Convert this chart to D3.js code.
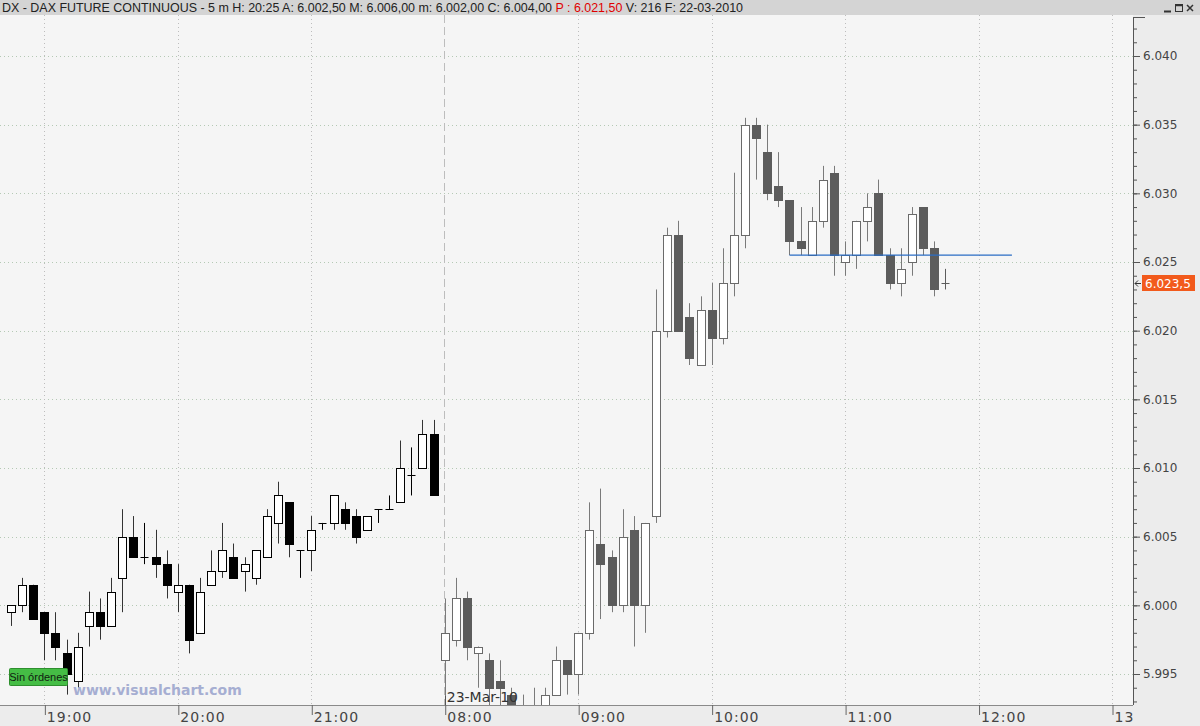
<!DOCTYPE html>
<html>
<head>
<meta charset="utf-8">
<script src="https://cdn.jsdelivr.net/npm/d3@7"></script>
<style>
html,body{margin:0;padding:0;background:#ededed;}
svg{display:block;}
</style>
</head>
<body>
<svg id="chart" width="1200" height="726"></svg>
<script>
// ---------- DATA ----------
const eveningTimes = ["18:45","18:50","18:55","19:00","19:05","19:10","19:15","19:20","19:25","19:30","19:35","19:40","19:45","19:50","19:55",
  "20:00","20:05","20:10","20:15","20:20","20:25","20:30","20:35","20:40","20:45","20:50","20:55",
  "21:00","21:05","21:10","21:15","21:20","21:25","21:30","21:35","21:40","21:45","21:50","21:55"];
const morningTimes = ["08:00","08:05","08:10","08:15","08:20","08:25","08:30","08:35","08:40","08:45","08:50","08:55",
  "09:00","09:05","09:10","09:15","09:20","09:25","09:30","09:35","09:40","09:45","09:50","09:55",
  "10:00","10:05","10:10","10:15","10:20","10:25","10:30","10:35","10:40","10:45","10:50","10:55",
  "11:00","11:05","11:10","11:15","11:20","11:25","11:30","11:35","11:40","11:45"];

const openValues = [5999.5,6000,6001.5,5999.5,5998,5996.5,5994.5,5998.5,5999.5,5998.5,6002,6005,6003.5,6003.5,6003,
  6001,6001.5,5998,6001.5,6002.5,6003.5,6002.5,6002,6003.5,6006,6007.5,6004,
  6004,6006,6006,6007,6006.5,6005.5,6007,6007,6007.5,6009.5,6010,6012.5,
  5996,5997.5,6000.5,5996.5,5996,5994.5,5993.5,5992.5,5992.5,5992,5993.5,5996,
  5995,5998,6004.5,6003.5,6000,6005.5,6000,6006.5,6020,6027,6021,6017.5,
  6021.5,6019.5,6023.5,6027,6035,6033,6030.5,6029.5,6026.5,6025.5,6028,6031.5,
  6025,6025.5,6028,6030,6025.5,6023.5,6025,6029,6026,6023.5];
const highValues = [6000,6002,6001.5,5999.5,5999.5,5997.5,5998,6001,6000.5,6002,6007,6006.5,6006,6005.5,6004,
  6003,6001.5,6002,6004,6006,6004.5,6003.5,6004,6007,6009,6007.5,6004,
  6006.5,6006,6008,6007.5,6007,6006.5,6007,6008,6012,6011.5,6013.5,6013.5,
  6000.5,6002,6001,5997,5996.5,5996,5994,5993.5,5994,5994,5997,5996,
  5998,6007.5,6008.5,6004,6007,6006.5,6006,6023,6027.5,6028,6022,6022.5,
  6023.5,6026,6031.5,6035.5,6035.5,6035,6033,6029.5,6029,6029,6032,6032,
  6026.5,6028,6030,6031,6026,6026,6029,6029,6026.5,6024.5];
const lowValues = [5998.5,5999.5,5999,5996,5996,5993.5,5994,5997,5997.5,5998.5,5999.5,6003.5,6003,6002,6000.5,
  5999.5,5996.5,5998,6001.5,6002,6002,6001,6001.5,6003.5,6004.5,6003.5,6002,
  6002.5,6005.5,6005.5,6005.5,6004.5,6005.5,6006,6007,6007.5,6008,6010,6008,
  5993,5997,5996,5994,5992.5,5992.5,5992,5991.5,5991.5,5991.5,5993.5,5993.5,
  5993.5,5997.5,5999,5999.5,5999.5,5997,5998,6006,6019.5,6020,6017.5,6017.5,
  6017.5,6019,6022.5,6026,6031,6029.5,6029,6025.5,6025.5,6025.5,6027.5,6024,
  6024,6024.5,6026.5,6025.5,6023,6022.5,6024,6025.5,6022.5,6023];
const closeValues = [6000,6001.5,5999,5998,5997,5995,5997,5999.5,5998.5,6001,6005,6003.5,6003.5,6003,6001.5,
  6001.5,5997.5,6001,6002.5,6004,6002,6003,6004,6006.5,6008,6004.5,6004,
  6005.5,6006,6008,6006,6005,6006.5,6007,6007,6010,6009.5,6012.5,6008,
  5998,6000.5,5997,5997,5994,5994,5992.5,5992,5992,5993.5,5996,5995,
  5998,6005.5,6003,6000,6005,6000,6006,6020,6027,6020,6018,6021.5,
  6019.5,6023.5,6027,6035,6034,6030,6029.5,6026.5,6026,6028,6031,6025.5,
  6025.5,6028,6029,6025.5,6023.5,6024.5,6028.5,6026,6023,6023.5];

const xTickLabels = ["19:00","20:00","21:00","08:00","09:00","10:00","11:00","12:00","13:00"];
const yMajorTicks = [5995,6000,6005,6010,6015,6020,6025,6030,6035,6040];
const sessionStart = "08:00";
const sessionDateLabel = "23-Mar-10";
const levelLine = {price: 6025.5, from: "10:35", to: "12:15"};
const headerParts = [
  {t:"DX - DAX FUTURE CONTINUOUS - 5 m H: 20:25 A: 6.002,50 M: 6.006,00 m: 6.002,00 C: 6.004,00 ", red:false},
  {t:"P : 6.021,50", red:true},
  {t:" V: 216 F: 22-03-2010", red:false}
];

// ---------- LAYOUT ----------
const W = 1200, H = 726;
const plotL = 0, plotR = 1133, plotT = 15, plotB = 705;
const svg = d3.select("#chart");

// slots on the time axis (candles plus empty future slots to 13:00)
const candleTimes = eveningTimes.concat(morningTimes);
const slots = candleTimes.slice();
for (let m = 11*60+50; m <= 13*60; m += 5) {
  slots.push(String(Math.floor(m/60)).padStart(2,"0") + ":" + String(m%60).padStart(2,"0"));
}
const x = d3.scalePoint().domain(slots).range([11, 1112]);
const y = d3.scaleLinear().domain([5995, 6040]).range([674, 56]);

const loc = d3.formatLocale({decimal: ",", thousands: ".", grouping: [3], currency: ["", "€"]});
const fmtAxis = loc.format(",");
const fmtLast = loc.format(",.1f");

// backgrounds
svg.append("rect").attr("width", W).attr("height", H).attr("fill", "#ececec");
svg.append("rect").attr("x", plotL).attr("y", plotT).attr("width", plotR - plotL).attr("height", plotB - plotT).attr("fill", "#f5f5f5");

// header
svg.append("rect").attr("width", W).attr("height", plotT).attr("fill", "#d4d4d4");
const head = svg.append("text").attr("x", 2).attr("y", 12)
  .attr("font-family", "Liberation Sans, Arial, sans-serif").attr("font-size", 12.5)
  .attr("fill", "#222").attr("textLength", 741).attr("lengthAdjust", "spacingAndGlyphs");
headerParts.forEach(p => head.append("tspan").attr("fill", p.red ? "#e00000" : "#222").text(p.t));
// window buttons
const wb = svg.append("g").attr("stroke", "#333").attr("fill", "none");
wb.append("line").attr("x1", 1164).attr("x2", 1171).attr("y1", 11.5).attr("y2", 11.5).attr("stroke-width", 2);
wb.append("rect").attr("x", 1175.5).attr("y", 4.5).attr("width", 7).attr("height", 7).attr("stroke-width", 1);
wb.append("line").attr("x1", 1175.5).attr("x2", 1182.5).attr("y1", 5.5).attr("y2", 5.5).attr("stroke-width", 1.5);
wb.append("path").attr("d", "M1187,5 L1193,11 M1193,5 L1187,11").attr("stroke-width", 1.5);

// clip
svg.append("defs").append("clipPath").attr("id", "plotClip")
  .append("rect").attr("x", plotL).attr("y", plotT).attr("width", plotR - plotL).attr("height", plotB - plotT);
svg.select("defs").append("clipPath").attr("id", "xlabClip")
  .append("rect").attr("x", 0).attr("y", plotB).attr("width", plotR).attr("height", H - plotB);

const plot = svg.append("g").attr("clip-path", "url(#plotClip)");

// horizontal grid
plot.append("g").selectAll("line").data(yMajorTicks).join("line")
  .attr("x1", plotL).attr("x2", plotR)
  .attr("y1", d => Math.round(y(d)) + 0.5).attr("y2", d => Math.round(y(d)) + 0.5)
  .attr("stroke", "#b5c9b5").attr("stroke-dasharray", "1,3");
// vertical grid at hours
plot.append("g").selectAll("line").data(xTickLabels.filter(t => t !== sessionStart)).join("line")
  .attr("x1", d => Math.round(x(d)) + 0.5).attr("x2", d => Math.round(x(d)) + 0.5)
  .attr("y1", plotT).attr("y2", plotB)
  .attr("stroke", "#bdbdbd").attr("stroke-dasharray", "1,3");
// session separator
plot.append("line")
  .attr("x1", Math.round(x(sessionStart)) - 0.5).attr("x2", Math.round(x(sessionStart)) - 0.5)
  .attr("y1", plotT).attr("y2", plotB)
  .attr("stroke", "#bdbdbd").attr("stroke-dasharray", "8,4");

// watermark
svg.append("text").attr("x", 73).attr("y", 695)
  .attr("font-family", "DejaVu Sans, Verdana, sans-serif").attr("font-weight", "bold").attr("font-size", 14)
  .attr("fill", "#a6aed2").text("www.visualchart.com");

// candles
const candles = candleTimes.map((t, i) => ({t, o: openValues[i], h: highValues[i], l: lowValues[i], c: closeValues[i],
  morning: i >= candleTimes.indexOf(sessionStart)}));
const bodyW = 8;
const cg = plot.append("g");
candles.forEach(d => {
  const cx = Math.round(x(d.t)) + 0.5;
  const up = d.c > d.o, doji = d.c === d.o;
  const wickCol = d.morning ? "#7a7a7a" : "#333";
  const edge = d.morning ? (up ? "#6a6a6a" : "#5c5c5c") : "#000";
  const fill = up ? "#fff" : (d.morning ? "#5c5c5c" : "#000");
  cg.append("line").attr("x1", cx).attr("x2", cx).attr("y1", y(d.h)).attr("y2", y(d.l))
    .attr("stroke", doji ? edge : wickCol).attr("stroke-width", 1);
  if (doji) {
    const yy = Math.round(y(d.o)) + 0.5;
    cg.append("line").attr("x1", cx - bodyW/2).attr("x2", cx + bodyW/2).attr("y1", yy).attr("y2", yy)
      .attr("stroke", edge).attr("stroke-width", 1);
  } else {
    const top = Math.round(y(Math.max(d.o, d.c))) + 0.5, bot = Math.round(y(Math.min(d.o, d.c))) + 0.5;
    cg.append("rect").attr("x", cx - bodyW/2).attr("y", top).attr("width", bodyW).attr("height", bot - top)
      .attr("fill", fill).attr("stroke", edge).attr("stroke-width", 1);
  }
});

// level line
plot.append("line")
  .attr("x1", x(levelLine.from)).attr("x2", x(levelLine.to))
  .attr("y1", y(levelLine.price)).attr("y2", y(levelLine.price))
  .attr("stroke", "#2a6cc4").attr("stroke-width", 1.3);

// session date label
svg.append("line").attr("x1", Math.round(x(sessionStart)) + 0.5).attr("x2", Math.round(x(sessionStart)) + 0.5)
  .attr("y1", 696).attr("y2", plotB).attr("stroke", "#555");
svg.append("text").attr("x", x(sessionStart) + 2).attr("y", 702)
  .attr("font-family", "DejaVu Sans, sans-serif").attr("font-size", 14).attr("fill", "#333")
  .text(sessionDateLabel);

// "Sin órdenes" badge
svg.append("rect").attr("x", 9.5).attr("y", 668.5).attr("width", 58).attr("height", 17).attr("rx", 1)
  .attr("fill", "#45bd45").attr("stroke", "#2e8f2e");
svg.append("text").attr("x", 38.5).attr("y", 681).attr("text-anchor", "middle")
  .attr("font-family", "Liberation Sans, Arial, sans-serif").attr("font-size", 11).attr("fill", "#102010")
  .text("Sin órdenes");

// x axis
svg.append("line").attr("x1", 0).attr("x2", plotR).attr("y1", plotB + 0.5).attr("y2", plotB + 0.5).attr("stroke", "#8a8a8a");
const xAxisClip = svg.append("g").attr("clip-path", "url(#xlabClip)");
const xAxis = xAxisClip.append("g").attr("transform", `translate(0,${plotB})`)
  .call(d3.axisBottom(x).tickValues(xTickLabels).tickSize(10).tickSizeOuter(0));
xAxis.select(".domain").remove();
xAxis.selectAll(".tick line").attr("stroke", "#666").attr("transform", "translate(0.5,0)");
xAxis.selectAll(".tick text").attr("text-anchor", "start").attr("x", 2).attr("y", 17).attr("dy", null)
  .attr("font-family", "DejaVu Sans, sans-serif").attr("font-size", 14).attr("letter-spacing", 1).attr("fill", "#444");

// y axis
svg.append("line").attr("x1", plotR + 0.5).attr("x2", plotR + 0.5).attr("y1", plotT + 2).attr("y2", plotB).attr("stroke", "#555");
svg.append("line").attr("x1", plotR).attr("x2", plotR + 12).attr("y1", plotT + 2.5).attr("y2", plotT + 2.5).attr("stroke", "#555");
const minorTicks = d3.range(5993, 6043).filter(v => y(v) > plotT + 2 && y(v) < plotB);
const yMinor = svg.append("g").attr("transform", `translate(${plotR},0)`)
  .call(d3.axisRight(y).tickValues(minorTicks).tickSize(4).tickFormat(""));
yMinor.select(".domain").remove();
yMinor.selectAll(".tick line").attr("stroke", "#555");
const yAxis = svg.append("g").attr("transform", `translate(${plotR},0)`)
  .call(d3.axisRight(y).tickValues(yMajorTicks).tickSize(7).tickPadding(3).tickFormat(fmtAxis));
yAxis.select(".domain").remove();
yAxis.selectAll(".tick line").attr("stroke", "#555");
yAxis.selectAll(".tick text").attr("font-family", "DejaVu Sans, sans-serif").attr("font-size", 12).attr("fill", "#444");

// last price label
const last = closeValues[closeValues.length - 1];
const ly = Math.round(y(last));
svg.append("rect").attr("x", 1142).attr("y", ly - 8).attr("width", 53).attr("height", 16).attr("fill", "#f25a1c");
svg.append("text").attr("x", 1145).attr("y", ly + 4.5)
  .attr("font-family", "DejaVu Sans, sans-serif").attr("font-size", 12).attr("fill", "#fff")
  .text(fmtLast(last));
svg.append("path").attr("d", `M1141,${ly + 0.5} L1135,${ly + 0.5} M1138,${ly - 2.5} L1135,${ly + 0.5} L1138,${ly + 3.5}`)
  .attr("stroke", "#333").attr("fill", "none");
</script>
</body>
</html>
